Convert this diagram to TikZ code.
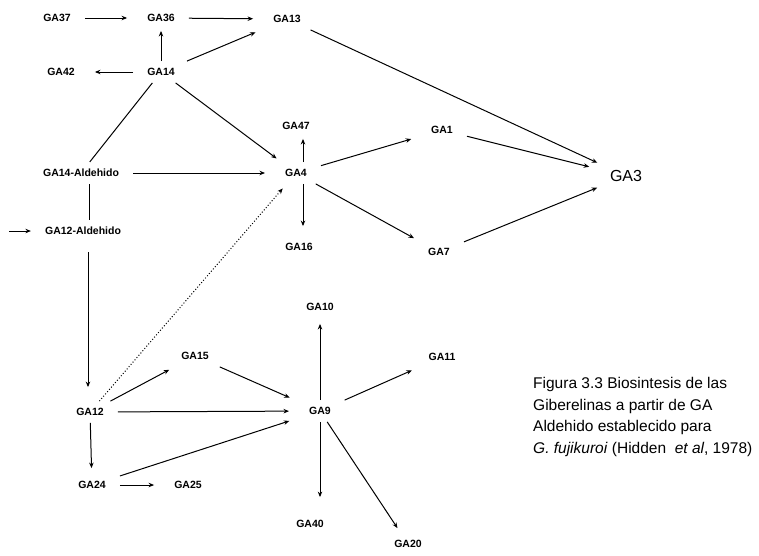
\documentclass[tikz,border=0pt]{standalone}
\usepackage{fontspec}
\setmainfont{Liberation Sans}
\usetikzlibrary{arrows.meta}
\begin{document}
\begin{tikzpicture}[x=1pt,y=-1pt,
  lab/.style={font=\fontsize{10.5}{12}\selectfont\bfseries, inner xsep=14pt, inner ysep=7pt},
  arr/.style={line width=1pt, shorten >=6pt, -{Stealth[length=5.5pt,width=4.5pt]}},
  ln/.style={line width=1pt},
  dot/.style={line width=1pt, dotted, shorten >=6pt, -{Stealth[length=5.5pt,width=4.5pt]}}]
\useasboundingbox (0,0) rectangle (759,555);
% nodes
\node[lab] (ga37) at (57,18) {GA37};
\node[lab] (ga36) at (161,18) {GA36};
\node[lab] (ga13) at (287,19) {GA13};
\node[lab] (ga42) at (61,72) {GA42};
\node[lab] (ga14) at (161,72) {GA14};
\node[lab] (ga47) at (296,126) {GA47};
\node[lab] (ga4) at (296,173) {GA4};
\node[lab] (ga1) at (442,130) {GA1};
\node[font=\fontsize{16}{18}\selectfont, inner sep=7pt] (ga3) at (626,176) {GA3};
\node[lab] (ga14a) at (81,173) {GA14-Aldehido};
\node[lab] (ga12a) at (83,231) {GA12-Aldehido};
\coordinate (in12a) at (9,231);
\node[lab] (ga16) at (299,247) {GA16};
\node[lab] (ga7) at (439,252) {GA7};
\node[lab] (ga10) at (320,307) {GA10};
\node[lab] (ga11) at (442,357) {GA11};
\node[lab] (ga15) at (195,356) {GA15};
\node[lab] (ga12) at (90,412) {GA12};
\node[lab] (ga9) at (320,411) {GA9};
\node[lab] (ga24) at (92,485) {GA24};
\node[lab] (ga25) at (188,485) {GA25};
\node[lab] (ga40) at (310,524) {GA40};
\node[lab] (ga20) at (408,544) {GA20};
% caption
\node[anchor=north west, inner sep=0pt, align=left,
  font=\fontsize{15.5}{21.7}\selectfont] (cap) at (533,377)
  {Figura 3.3 Biosintesis de las\\
   Giberelinas a partir de GA\\
   Aldehido establecido para\\
   \textit{G. fujikuroi} (Hidden\ \ \textit{et al}, 1978)};
% edges
\draw[arr] (ga37) -- (ga36);
\draw[arr] (ga36) -- (ga13);
\draw[arr, shorten >=2pt] (ga14) -- (ga36);
\draw[arr] (ga14) -- (ga13);
\draw[arr] (ga14) -- (ga42);
\draw[arr] (ga14) -- (ga4);
\draw[ln] (ga14a) -- (ga14);
\draw[arr] (ga14a) -- (ga4);
\draw[ln] (ga14a.south -| 89,0) -- (ga12a.north -| 89,0);
\draw[arr, shorten >=0pt] (in12a) -- (ga12a);
\draw[arr, shorten <=10pt, shorten >=14pt] (ga12a.south -| 88,0) -- (ga12.north -| 88,0);
\draw[dot] (ga12) -- (ga4);
\draw[arr] (ga12) -- (ga15);
\draw[arr] (ga12) -- (ga9);
\draw[arr] (ga12) -- (ga24);
\draw[arr] (ga24) -- (ga25);
\draw[arr] (ga24) -- (ga9);
\draw[arr] (ga15) -- (ga9);
\draw[arr] (ga9) -- (ga10);
\draw[arr] (ga9) -- (ga11);
\draw[arr, shorten >=16pt] (ga9) -- (ga9 |- ga40.north);
\draw[arr] (ga9) -- (ga20);
\draw[arr, shorten >=2pt] (ga4.north -| 303,0) -- (ga47.south -| 303,0);
\draw[arr, shorten >=10pt] (ga4.south -| 303,0) -- (ga16.north -| 303,0);
\draw[arr] (ga4) -- (ga1);
\draw[arr] (ga4) -- (ga7);
\draw[arr, shorten >=14pt] (ga1) -- (ga3);
\draw[arr] (ga7) -- (ga3);
\draw[arr] (ga13) -- (ga3);
\end{tikzpicture}
\end{document}
